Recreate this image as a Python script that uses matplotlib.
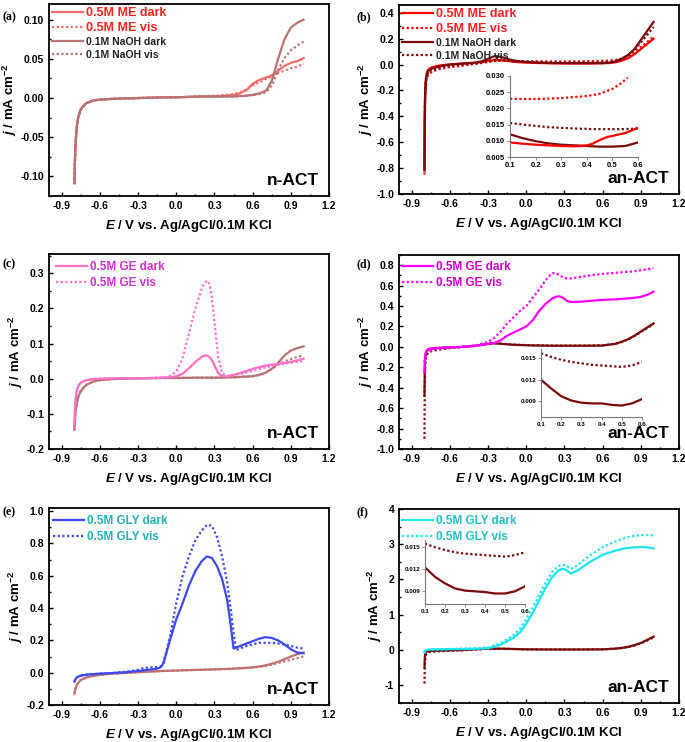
import matplotlib
matplotlib.use("Agg")
import matplotlib.pyplot as plt
from matplotlib.ticker import MultipleLocator, FormatStrFormatter

plt.rcParams['font.family'] = ['Liberation Sans', 'DejaVu Sans']
plt.rcParams['font.weight'] = 'bold'
plt.rcParams['axes.unicode_minus'] = False
plt.rcParams['mathtext.fontset'] = 'custom'
plt.rcParams['mathtext.rm'] = 'Liberation Sans:bold'
plt.rcParams['mathtext.it'] = 'Liberation Sans:bold:italic'
plt.rcParams['mathtext.bf'] = 'Liberation Sans:bold'

# === Datos ===

# (a) n-ACT, ME
a_E = [-0.8, -0.797, -0.794, -0.79, -0.785, -0.78, -0.77, -0.75, -0.72, -0.7, -0.65, -0.6,
       -0.5, -0.4, -0.3, -0.2, -0.1, 0.0, 0.1, 0.2, 0.3, 0.4, 0.45, 0.5, 0.55, 0.6, 0.65,
       0.7, 0.72, 0.75, 0.77, 0.8, 0.85, 0.9, 0.95, 1.0]
a_naoh_dark = [-0.108, -0.085, -0.068, -0.055, -0.043, -0.034, -0.024, -0.014, -0.008, -0.006,
               -0.003, -0.002, -0.001, -0.0005, 0.0, 0.0005, 0.001, 0.001, 0.0015, 0.002, 0.002,
               0.002, 0.002, 0.0025, 0.003, 0.004, 0.006, 0.009, 0.013, 0.022, 0.033, 0.05,
               0.075, 0.09, 0.096, 0.1]
a_naoh_vis = [-0.11, -0.087, -0.07, -0.056, -0.044, -0.035, -0.025, -0.015, -0.009, -0.006,
              -0.003, -0.002, -0.001, -0.0005, 0.0, 0.0005, 0.001, 0.001, 0.0015, 0.002, 0.002,
              0.002, 0.002, 0.0025, 0.003, 0.004, 0.005, 0.007, 0.01, 0.016, 0.023, 0.036,
              0.051, 0.061, 0.067, 0.072]
a_me_dark = [-0.108, -0.085, -0.068, -0.055, -0.043, -0.034, -0.024, -0.014, -0.008, -0.006,
             -0.003, -0.002, -0.001, -0.0005, 0.0, 0.0005, 0.001, 0.001, 0.0015, 0.002, 0.002,
             0.003, 0.004, 0.006, 0.01, 0.018, 0.023, 0.026, 0.027, 0.029, 0.031, 0.035,
             0.041, 0.045, 0.047, 0.051]
a_me_vis = [-0.11, -0.087, -0.07, -0.056, -0.044, -0.035, -0.025, -0.015, -0.009, -0.006,
            -0.003, -0.002, -0.001, -0.0005, 0.0, 0.0005, 0.001, 0.001, 0.0015, 0.002, 0.003,
            0.004, 0.005, 0.007, 0.011, 0.016, 0.02, 0.024, 0.025, 0.028, 0.03, 0.032,
            0.035, 0.038, 0.04, 0.044]

# (b) an-ACT, ME
b_E = [-0.8, -0.799, -0.797, -0.795, -0.79, -0.785, -0.78, -0.77, -0.76, -0.74, -0.7, -0.65,
       -0.6, -0.5, -0.4, -0.35, -0.3, -0.25, -0.2, -0.15, -0.1, -0.05, 0.0, 0.1, 0.2, 0.3,
       0.4, 0.5, 0.6, 0.65, 0.7, 0.75, 0.8, 0.85, 0.9, 0.95, 1.0]
b_naoh_dark = [-0.82, -0.6, -0.4, -0.25, -0.15, -0.1, -0.075, -0.05, -0.04, -0.03, -0.018,
               -0.008, 0.0, 0.008, 0.015, 0.025, 0.045, 0.065, 0.06, 0.045, 0.032, 0.025, 0.02,
               0.015, 0.012, 0.011, 0.011, 0.011, 0.012, 0.015, 0.024, 0.045, 0.075, 0.12,
               0.19, 0.26, 0.33]
b_naoh_vis = [-0.8, -0.55, -0.35, -0.22, -0.14, -0.1, -0.08, -0.06, -0.05, -0.04, -0.03,
              -0.018, -0.01, 0.0, 0.01, 0.018, 0.028, 0.038, 0.035, 0.03, 0.027, 0.024, 0.022,
              0.02, 0.018, 0.016, 0.016, 0.016, 0.017, 0.02, 0.027, 0.045, 0.072, 0.115, 0.17,
              0.23, 0.29]
b_me_dark = [-0.8, -0.55, -0.35, -0.22, -0.12, -0.08, -0.06, -0.04, -0.03, -0.02, -0.01,
             -0.003, 0.002, 0.008, 0.014, 0.02, 0.028, 0.034, 0.034, 0.028, 0.022, 0.018, 0.015,
             0.012, 0.01, 0.009, 0.009, 0.009, 0.01, 0.012, 0.018, 0.03, 0.05, 0.08, 0.12,
             0.16, 0.2]
b_me_vis = [-0.85, -0.6, -0.4, -0.25, -0.16, -0.12, -0.1, -0.08, -0.07, -0.055, -0.04,
            -0.028, -0.02, -0.008, 0.005, 0.012, 0.02, 0.027, 0.03, 0.03, 0.028, 0.026, 0.025,
            0.024, 0.024, 0.024, 0.025, 0.027, 0.029, 0.031, 0.036, 0.045, 0.065, 0.095,
            0.135, 0.175, 0.215]
# inset (b)
bi_E = [0.1, 0.15, 0.2, 0.25, 0.3, 0.35, 0.38, 0.4, 0.42, 0.45, 0.48, 0.5, 0.55, 0.6]
bi_me_vis_E = [0.1, 0.15, 0.2, 0.25, 0.3, 0.35, 0.4, 0.45, 0.5, 0.53, 0.56]
bi_me_vis = [0.023, 0.0229, 0.0229, 0.023, 0.0232, 0.0235, 0.0238, 0.0245, 0.026, 0.0275, 0.0295]
bi_naoh_vis = [0.0155, 0.015, 0.0146, 0.0142, 0.014, 0.0138, 0.0137, 0.0137, 0.0136, 0.0136,
               0.0136, 0.0136, 0.0136, 0.0138]
bi_naoh_dark = [0.012, 0.0108, 0.0099, 0.0092, 0.0088, 0.0086, 0.0085, 0.0084, 0.0083, 0.0082,
                0.0082, 0.0082, 0.0084, 0.0095]
bi_me_dark = [0.0095, 0.0091, 0.0088, 0.0086, 0.0084, 0.0083, 0.0084, 0.0086, 0.009, 0.0102,
              0.0112, 0.0115, 0.0124, 0.014]

# (c) n-ACT, GE
c_E = [-0.8, -0.797, -0.795, -0.79, -0.785, -0.78, -0.77, -0.75, -0.72, -0.7, -0.65, -0.6,
       -0.5, -0.4, -0.3, -0.2, -0.1, -0.05, 0.0, 0.05, 0.1, 0.15, 0.2, 0.22, 0.24, 0.26, 0.28,
       0.3, 0.33, 0.36, 0.4, 0.45, 0.5, 0.55, 0.6, 0.65, 0.7, 0.75, 0.8, 0.85, 0.9, 0.95, 1.0]
c_naoh_dark = [-0.145, -0.125, -0.11, -0.09, -0.078, -0.068, -0.052, -0.035, -0.022, -0.016,
               -0.008, -0.004, -0.001, 0.0, 0.001, 0.0015, 0.002, 0.002, 0.002, 0.0025, 0.0025,
               0.003, 0.003, 0.003, 0.003, 0.003, 0.003, 0.003, 0.003, 0.003, 0.004, 0.004,
               0.005, 0.006, 0.007, 0.011, 0.017, 0.028, 0.045, 0.066, 0.08, 0.087, 0.092]
c_naoh_vis = [-0.145, -0.125, -0.11, -0.09, -0.078, -0.068, -0.052, -0.035, -0.022, -0.016,
              -0.008, -0.004, -0.001, 0.0, 0.001, 0.0015, 0.002, 0.002, 0.002, 0.0025, 0.0025,
              0.003, 0.003, 0.003, 0.003, 0.003, 0.003, 0.003, 0.003, 0.003, 0.004, 0.004,
              0.005, 0.006, 0.007, 0.01, 0.016, 0.027, 0.04, 0.049, 0.056, 0.062, 0.067]
c_ge_dark = [-0.14, -0.1, -0.08, -0.055, -0.042, -0.032, -0.021, -0.011, -0.006, -0.004,
             -0.001, 0.0, 0.001, 0.001, 0.0015, 0.002, 0.003, 0.004, 0.007, 0.014, 0.03, 0.048,
             0.062, 0.066, 0.066, 0.062, 0.053, 0.038, 0.016, 0.007, 0.007, 0.011, 0.016,
             0.022, 0.028, 0.033, 0.037, 0.04, 0.042, 0.045, 0.048, 0.052, 0.057]
c_ge_vis = [-0.14, -0.1, -0.08, -0.055, -0.042, -0.032, -0.021, -0.011, -0.006, -0.004,
            -0.001, 0.0, 0.001, 0.001, 0.0015, 0.002, 0.004, 0.008, 0.02, 0.06, 0.13, 0.2,
            0.255, 0.272, 0.279, 0.27, 0.23, 0.16, 0.06, 0.015, 0.008, 0.01, 0.013, 0.018,
            0.022, 0.027, 0.032, 0.036, 0.04, 0.043, 0.045, 0.048, 0.05]

# (d) an-ACT, GE
d_E = [-0.8, -0.799, -0.797, -0.795, -0.79, -0.785, -0.78, -0.77, -0.75, -0.7, -0.6, -0.5,
       -0.4, -0.35, -0.3, -0.25, -0.2, -0.15, -0.1, -0.05, 0.0, 0.05, 0.1, 0.15, 0.2, 0.23,
       0.26, 0.29, 0.32, 0.35, 0.4, 0.5, 0.6, 0.7, 0.75, 0.8, 0.85, 0.9, 0.95, 1.0]
d_naoh_dark = [-0.48, -0.35, -0.2, -0.12, -0.07, -0.05, -0.04, -0.03, -0.02, -0.012, -0.005,
               0.0, 0.01, 0.02, 0.03, 0.035, 0.03, 0.025, 0.02, 0.018, 0.016, 0.014, 0.013,
               0.012, 0.011, 0.011, 0.011, 0.011, 0.011, 0.011, 0.011, 0.011, 0.013, 0.03,
               0.05, 0.075, 0.11, 0.15, 0.19, 0.23]
d_naoh_vis = [-0.9, -0.6, -0.35, -0.2, -0.12, -0.09, -0.075, -0.06, -0.045, -0.03, -0.012,
              0.0, 0.012, 0.022, 0.033, 0.036, 0.032, 0.027, 0.023, 0.02, 0.018, 0.016, 0.015,
              0.014, 0.013, 0.013, 0.013, 0.013, 0.013, 0.013, 0.013, 0.013, 0.015, 0.03,
              0.048, 0.072, 0.105, 0.145, 0.185, 0.22]
d_ge_dark = [-0.25, -0.2, -0.15, -0.1, -0.06, -0.04, -0.03, -0.02, -0.015, -0.01, -0.005,
             0.0, 0.01, 0.018, 0.028, 0.04, 0.065, 0.11, 0.14, 0.17, 0.2, 0.26, 0.35, 0.42,
             0.47, 0.49, 0.495, 0.48, 0.45, 0.44, 0.44, 0.45, 0.46, 0.465, 0.47, 0.475, 0.48,
             0.49, 0.51, 0.54]
d_ge_vis = [-0.15, -0.12, -0.1, -0.08, -0.06, -0.05, -0.045, -0.04, -0.035, -0.02, -0.01,
            0.0, 0.015, 0.03, 0.05, 0.09, 0.15, 0.23, 0.29, 0.35, 0.4, 0.48, 0.56, 0.65, 0.72,
            0.725, 0.7, 0.68, 0.67, 0.67, 0.68, 0.7, 0.715, 0.725, 0.73, 0.735, 0.74, 0.75,
            0.76, 0.77]
# inset (d)
di_E = [0.1, 0.15, 0.2, 0.25, 0.3, 0.35, 0.4, 0.45, 0.5, 0.55, 0.6]
di_naoh_vis = [0.0157, 0.0152, 0.0148, 0.0145, 0.0143, 0.0141, 0.014, 0.0139, 0.0138, 0.014,
               0.0145]
di_naoh_dark = [0.012, 0.0108, 0.0097, 0.0091, 0.0088, 0.0087, 0.0087, 0.0085, 0.0084,
                0.0087, 0.0093]

# (e) n-ACT, GLY
e_E = [-0.8, -0.795, -0.79, -0.78, -0.77, -0.75, -0.7, -0.6, -0.5, -0.4, -0.3, -0.25, -0.2,
       -0.15, -0.12, -0.1, -0.05, 0.0, 0.05, 0.1, 0.15, 0.2, 0.24, 0.28, 0.32, 0.36, 0.4,
       0.43, 0.45, 0.47, 0.5, 0.55, 0.6, 0.65, 0.7, 0.75, 0.8, 0.85, 0.9, 0.95, 1.0]
e_gly_dark = [-0.055, -0.045, -0.038, -0.03, -0.025, -0.018, -0.012, -0.006, -0.002, 0.003,
              0.01, 0.015, 0.02, 0.025, 0.035, 0.06, 0.2, 0.33, 0.43, 0.54, 0.63, 0.69, 0.72,
              0.71, 0.66, 0.58, 0.45, 0.28, 0.15, 0.155, 0.165, 0.18, 0.195, 0.21, 0.22,
              0.215, 0.2, 0.175, 0.145, 0.125, 0.12]
e_gly_vis = [-0.055, -0.045, -0.038, -0.03, -0.025, -0.018, -0.012, -0.006, -0.002, 0.005,
             0.018, 0.03, 0.033, 0.035, 0.04, 0.06, 0.22, 0.43, 0.6, 0.72, 0.82, 0.88, 0.915,
             0.91, 0.84, 0.72, 0.56, 0.38, 0.25, 0.14, 0.15, 0.165, 0.175, 0.185, 0.185,
             0.185, 0.18, 0.175, 0.165, 0.155, 0.15]
e_naoh_dark = [-0.13, -0.11, -0.095, -0.075, -0.062, -0.045, -0.028, -0.013, -0.006, -0.001,
               0.003, 0.005, 0.007, 0.009, 0.01, 0.011, 0.012, 0.013, 0.015, 0.016, 0.017,
               0.018, 0.019, 0.02, 0.021, 0.022, 0.023, 0.024, 0.025, 0.026, 0.027, 0.03,
               0.033, 0.038, 0.045, 0.055, 0.068, 0.083, 0.1, 0.115, 0.125]
e_naoh_vis = [-0.13, -0.11, -0.095, -0.075, -0.062, -0.045, -0.028, -0.013, -0.006, -0.001,
              0.003, 0.005, 0.007, 0.009, 0.01, 0.011, 0.012, 0.013, 0.015, 0.016, 0.017,
              0.018, 0.019, 0.02, 0.021, 0.022, 0.023, 0.024, 0.025, 0.026, 0.027, 0.029,
              0.032, 0.036, 0.042, 0.05, 0.06, 0.07, 0.08, 0.09, 0.1]

# (f) an-ACT, GLY
f_E = [-0.8, -0.799, -0.797, -0.795, -0.79, -0.785, -0.78, -0.77, -0.75, -0.7, -0.6, -0.5,
       -0.4, -0.3, -0.2, -0.1, -0.05, 0.0, 0.05, 0.1, 0.15, 0.2, 0.25, 0.28, 0.31, 0.35,
       0.4, 0.5, 0.6, 0.7, 0.75, 0.8, 0.85, 0.9, 0.95, 1.0]
f_gly_dark = [-0.05, -0.04, -0.03, -0.02, -0.01, 0.0, 0.005, 0.01, 0.015, 0.02, 0.025, 0.03,
              0.035, 0.05, 0.15, 0.35, 0.5, 0.75, 1.05, 1.4, 1.75, 2.05, 2.25, 2.3, 2.28,
              2.17, 2.25, 2.5, 2.7, 2.82, 2.86, 2.9, 2.91, 2.92, 2.91, 2.88]
f_gly_vis = [-0.1, -0.08, -0.06, -0.04, -0.02, -0.01, 0.0, 0.01, 0.015, 0.02, 0.03, 0.04,
             0.05, 0.07, 0.2, 0.42, 0.6, 0.88, 1.2, 1.55, 1.9, 2.2, 2.38, 2.42, 2.4, 2.3,
             2.4, 2.68, 2.92, 3.08, 3.15, 3.2, 3.24, 3.26, 3.26, 3.25]
f_naoh_dark = [-0.5, -0.35, -0.2, -0.12, -0.07, -0.05, -0.04, -0.03, -0.025, -0.02, -0.01,
               0.0, 0.02, 0.04, 0.04, 0.03, 0.025, 0.02, 0.02, 0.018, 0.017, 0.016, 0.016,
               0.016, 0.016, 0.016, 0.016, 0.017, 0.02, 0.04, 0.06, 0.09, 0.14, 0.2, 0.29, 0.38]
f_naoh_vis = [-0.95, -0.7, -0.45, -0.3, -0.15, -0.1, -0.08, -0.06, -0.05, -0.035, -0.02,
              -0.005, 0.015, 0.035, 0.035, 0.028, 0.024, 0.02, 0.019, 0.018, 0.017, 0.016,
              0.016, 0.016, 0.016, 0.016, 0.016, 0.017, 0.02, 0.038, 0.056, 0.085, 0.13,
              0.19, 0.27, 0.36]
# inset (f)
fi_E = [0.1, 0.15, 0.2, 0.25, 0.3, 0.35, 0.4, 0.45, 0.5, 0.55, 0.6]
fi_naoh_vis = [0.0155, 0.015, 0.0146, 0.0143, 0.0141, 0.014, 0.0139, 0.0138, 0.0137, 0.0139,
               0.0143]
fi_naoh_dark = [0.0122, 0.0109, 0.01, 0.0093, 0.009, 0.0089, 0.0088, 0.0086, 0.0086, 0.0089,
                0.0096]

DOT = (0, (1, 1.1))
LW = 1.6
XLABEL = r'$E$ / V vs. Ag/AgCl/0.1M KCl'
YLABEL = r'$j$ / mA cm$^{-2}$'


def estilo(ax, ylim, ystep, yfmt, texto):
    ax.set_xlim(-1.0, 1.2)
    ax.set_ylim(*ylim)
    ax.xaxis.set_major_locator(MultipleLocator(0.3))
    ax.xaxis.set_minor_locator(MultipleLocator(0.15))
    ax.yaxis.set_major_locator(MultipleLocator(ystep))
    ax.yaxis.set_minor_locator(MultipleLocator(ystep / 2))
    ax.xaxis.set_major_formatter(FormatStrFormatter('%.1f'))
    ax.yaxis.set_major_formatter(FormatStrFormatter(yfmt))
    ax.tick_params(which='both', direction='in', labelsize=7.5, width=1)
    ax.tick_params(which='major', length=3)
    ax.tick_params(which='minor', length=1.5)
    for s in ax.spines.values():
        s.set_linewidth(1.3)
    ax.set_xlabel(XLABEL, fontsize=9.5, fontweight='bold', labelpad=5)
    ax.set_ylabel(YLABEL, fontsize=9.5, fontweight='bold', labelpad=1)
    ax.text(0.965, 0.04, texto, transform=ax.transAxes, ha='right', va='bottom',
            fontsize=12.5, fontweight='bold')


def estilo_inset(ax, ylim, ystep, yfmt, fs):
    ax.set_xlim(0.1, 0.6)
    ax.set_ylim(*ylim)
    ax.xaxis.set_major_locator(MultipleLocator(0.1))
    ax.xaxis.set_major_formatter(FormatStrFormatter('%.1f'))
    ax.yaxis.set_major_locator(MultipleLocator(ystep))
    ax.yaxis.set_major_formatter(FormatStrFormatter(yfmt))
    ax.patch.set_alpha(0)
    for lado in ['top', 'right']:
        ax.spines[lado].set_visible(False)
    for lado in ['left', 'bottom']:
        ax.spines[lado].set_color('#777777')
        ax.spines[lado].set_linewidth(0.8)
    ax.tick_params(direction='out', length=2, width=0.6, color='#777777',
                   labelsize=fs, pad=1.5)


def leyenda(ax, colores_texto, tamanos, espacio, **kw):
    leg = ax.legend(frameon=False, loc='upper left', handlelength=2.6, handletextpad=0.3,
                    labelspacing=espacio, borderaxespad=0.1, fontsize=8.5, **kw)
    for t, c, s in zip(leg.get_texts(), colores_texto, tamanos):
        t.set_color(c)
        t.set_fontsize(s)
        t.set_fontweight('bold')
    return leg


fig = plt.figure(figsize=(6.85, 7.42), dpi=100)

# === (a) ===
ax = fig.add_axes([0.0715, 0.7358, 0.4088, 0.2588])
ax.plot(a_E, a_me_dark, color='#F26B6B', lw=LW, label='0.5M ME dark')
ax.plot(a_E, a_me_vis, color='#F26B6B', lw=LW, ls=DOT, label='0.5M ME vis')
ax.plot(a_E, a_naoh_dark, color='#B87272', lw=LW, label='0.1M NaOH dark')
ax.plot(a_E, a_naoh_vis, color='#B87272', lw=LW, ls=DOT, label='0.1M NaOH vis')
estilo(ax, (-0.125, 0.12), 0.05, '%.2f', 'n-ACT')
leyenda(ax, ['#FF2020', '#FF2020', '#222222', '#222222'], [9, 9, 7.5, 7.5], 0.25,
        borderpad=0.15)

# === (b) ===
ax = fig.add_axes([0.5825, 0.7385, 0.4088, 0.2547])
ax.plot(b_E, b_me_dark, color='#FF0000', lw=LW, label='0.5M ME dark')
ax.plot(b_E, b_me_vis, color='#FF0000', lw=LW, ls=DOT, label='0.5M ME vis')
ax.plot(b_E, b_naoh_dark, color='#7A0A0A', lw=LW, label='0.1M NaOH dark')
ax.plot(b_E, b_naoh_vis, color='#7A0A0A', lw=LW, ls=DOT, label='0.1M NaOH vis')
estilo(ax, (-1.0, 0.46), 0.2, '%.1f', 'an-ACT')
leyenda(ax, ['#FF2020', '#FF2020', '#222222', '#222222'], [9, 9, 7.5, 7.5], 0.25,
        borderpad=0.15)

axi = fig.add_axes([0.7445, 0.7884, 0.1869, 0.1092])
axi.plot(bi_me_vis_E, bi_me_vis, color='#FF0000', lw=LW, ls=DOT)
axi.plot(bi_E, bi_naoh_vis, color='#7A0A0A', lw=LW, ls=DOT)
axi.plot(bi_E, bi_naoh_dark, color='#7A0A0A', lw=LW)
axi.plot(bi_E, bi_me_dark, color='#FF0000', lw=LW)
estilo_inset(axi, (0.005, 0.030), 0.005, '%.3f', 5.5)

# === (c) ===
ax = fig.add_axes([0.0715, 0.3949, 0.4088, 0.2628])
ax.plot(c_E, c_naoh_dark, color='#B87272', lw=LW)
ax.plot(c_E, c_naoh_vis, color='#B87272', lw=LW, ls=DOT)
ax.plot(c_E, c_ge_dark, color='#FF6EC7', lw=LW, label='0.5M GE dark')
ax.plot(c_E, c_ge_vis, color='#FF6EC7', lw=LW, ls=DOT, label='0.5M GE vis')
estilo(ax, (-0.2, 0.355), 0.1, '%.1f', 'n-ACT')
leyenda(ax, ['#CC33CC', '#CC33CC'], [8.5, 8.5], 0.35, borderpad=0.5,
        bbox_to_anchor=(0.0, 1.0))

# === (d) ===
ax = fig.add_axes([0.5825, 0.3949, 0.4088, 0.2615])
ax.plot(d_E, d_naoh_dark, color='#7A0A0A', lw=LW)
ax.plot(d_E, d_naoh_vis, color='#7A0A0A', lw=LW, ls=DOT)
ax.plot(d_E, d_ge_dark, color='#FF00FF', lw=LW, label='0.5M GE dark')
ax.plot(d_E, d_ge_vis, color='#FF00FF', lw=LW, ls=DOT, label='0.5M GE vis')
estilo(ax, (-1.0, 0.9), 0.2, '%.1f', 'an-ACT')
leyenda(ax, ['#CC00CC', '#CC00CC'], [8.5, 8.5], 0.35, borderpad=0.4,
        bbox_to_anchor=(-0.01, 1.0))

axi = fig.add_axes([0.7898, 0.438, 0.1474, 0.0916])
axi.plot(di_E, di_naoh_vis, color='#7A0A0A', lw=LW, ls=DOT)
axi.plot(di_E, di_naoh_dark, color='#7A0A0A', lw=LW)
estilo_inset(axi, (0.0068, 0.0163), 0.003, '%.3f', 4.5)

# === (e) ===
ax = fig.add_axes([0.0715, 0.0499, 0.4088, 0.2655])
ax.plot(e_E, e_naoh_dark, color='#C07070', lw=LW)
ax.plot(e_E, e_naoh_vis, color='#C07070', lw=LW, ls=DOT)
ax.plot(e_E, e_gly_dark, color='#3E48F0', lw=LW, label='0.5M GLY dark')
ax.plot(e_E, e_gly_vis, color='#3E48F0', lw=LW, ls=DOT, label='0.5M GLY vis')
estilo(ax, (-0.2, 1.02), 0.2, '%.1f', 'n-ACT')
leyenda(ax, ['#22B2B8', '#22B2B8'], [8.5, 8.5], 0.35, borderpad=0.5,
        bbox_to_anchor=(-0.01, 1.0))

# === (f) ===
ax = fig.add_axes([0.5825, 0.0526, 0.4088, 0.2615])
ax.plot(f_E, f_naoh_dark, color='#7A0A0A', lw=LW)
ax.plot(f_E, f_naoh_vis, color='#7A0A0A', lw=LW, ls=DOT)
ax.plot(f_E, f_gly_dark, color='#19E6EE', lw=LW, label='0.5M GLY dark')
ax.plot(f_E, f_gly_vis, color='#19E6EE', lw=LW, ls=DOT, label='0.5M GLY vis')
estilo(ax, (-1.5, 4.0), 1, '%d', 'an-ACT')
leyenda(ax, ['#22C0C8', '#22C0C8'], [8.5, 8.5], 0.35, borderpad=0.4,
        bbox_to_anchor=(-0.01, 1.0))

axi = fig.add_axes([0.6204, 0.186, 0.146, 0.0863])
axi.plot(fi_E, fi_naoh_vis, color='#7A0A0A', lw=LW, ls=DOT)
axi.plot(fi_E, fi_naoh_dark, color='#7A0A0A', lw=LW)
estilo_inset(axi, (0.00715, 0.016), 0.003, '%.3f', 4.5)

# Etiquetas de panel
for letra, x, y in [('(a)', 0.003, 0.985), ('(b)', 0.521, 0.985), ('(c)', 0.003, 0.652),
                    ('(d)', 0.521, 0.652), ('(e)', 0.003, 0.318), ('(f)', 0.521, 0.318)]:
    fig.text(x, y, letra, fontsize=8.5, fontweight='bold', family='Liberation Serif',
             va='top')

plt.savefig('out.png', dpi=100)
